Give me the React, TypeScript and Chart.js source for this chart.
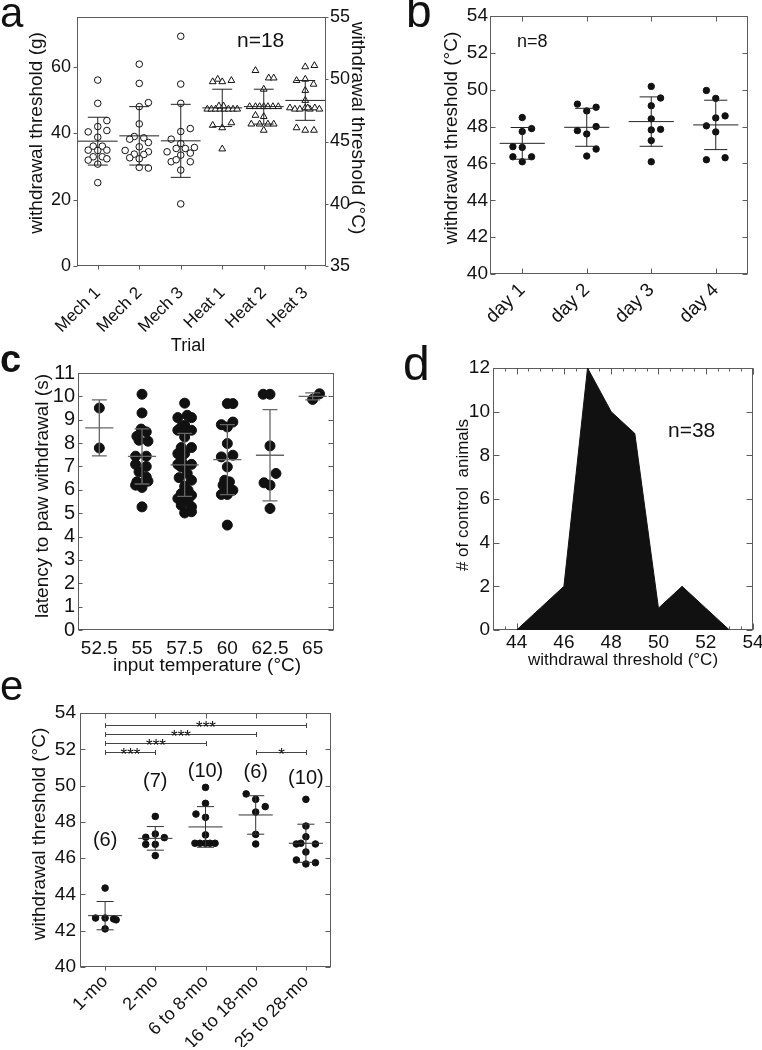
import React, { useEffect, useRef } from 'react';
import { Chart, registerables } from 'chart.js';

Chart.register(...registerables);

const W = 762;
const H = 1050;
const FONT = "'Liberation Sans', Arial, Helvetica, sans-serif";
const INK = '#111111';
const AXIS = '#5c5c5c';

// ---------- Panel a : trials ----------
const trialLabels = ['Mech 1', 'Mech 2', 'Mech 3', 'Heat 1', 'Heat 2', 'Heat 3'];
const aLeftTicks = [0, 20, 40, 60];
const aRightTicks = [35, 40, 45, 50, 55];
const mech1 = [56.0, 49.0, 43.8, 42.0, 40.8, 40.4, 38.8, 36.1, 36.1, 34.9, 34.8, 34.9, 32.9, 32.9, 31.9, 32.3, 30.7, 25.1];
const mech1Jit = [0, 0, 0.22, 0, 0.22, -0.23, 0, -0.11, 0.11, -0.23, 0, 0.22, -0.11, 0.11, -0.23, 0.22, 0, 0];
const mech2 = [60.8, 55.0, 49.2, 48.0, 42.8, 39.0, 38.6, 38.2, 37.2, 35.9, 34.8, 34.4, 33.7, 33.6, 32.3, 32.6, 29.7, 29.5];
const mech2Jit = [0, 0, 0.22, 0, 0, -0.12, 0.11, -0.23, 0.22, 0, -0.34, 0.22, -0.12, 0.11, 0, -0.23, 0, 0.22];
const mech3 = [69.2, 54.8, 49.0, 41.4, 40.5, 38.2, 36.9, 35.4, 35.4, 35.7, 34.4, 33.4, 34.0, 31.4, 32.0, 31.4, 28.9, 18.7];
const mech3Jit = [0, 0, 0, 0.23, 0, -0.23, 0, -0.11, 0.11, 0.33, -0.33, 0, 0.23, -0.23, -0.11, 0.23, 0, 0];
const heat1 = [50.0, 49.8, 49.8, 49.9, 47.6, 47.6, 47.6, 47.6, 47.6, 47.6, 47.6, 47.6, 47.85, 47.85, 46.3, 46.1, 46.5, 44.4];
const heat1Jit = [-0.11, -0.23, 0, 0.22, -0.36, -0.26, -0.16, -0.05, 0.05, 0.15, 0.26, 0.36, -0.08, 0.03, -0.23, 0, 0.22, 0];
const heat2 = [50.7, 50.1, 50.1, 49.2, 47.8, 47.8, 47.8, 47.8, 47.8, 47.8, 47.8, 47.1, 47.0, 46.4, 46.4, 46.4, 46.4, 45.9];
const heat2Jit = [-0.2, 0.12, 0.24, 0, -0.34, -0.2, -0.1, 0, 0.1, 0.22, 0.35, -0.2, 0, -0.3, -0.1, 0.1, 0.24, 0];
const heat3 = [51.0, 51.1, 49.9, 50.0, 49.6, 49.1, 48.3, 47.7, 47.6, 47.6, 47.7, 47.6, 47.7, 47.6, 47.7, 46.1, 45.9, 45.9];
const heat3Jit = [0, 0.22, -0.21, 0, 0.2, 0, 0, -0.37, -0.25, -0.13, 0, 0.11, 0.23, 0.34, 0.06, -0.21, 0, 0.21];
const mechMean = [37.6, 39.2, 37.7];
const mechSD = [7.2, 8.8, 11.0];
const heatMean = [47.7, 47.8, 48.3];
const heatSD = [1.5, 1.4, 1.6];

// ---------- Panel b : days ----------
const dayLabels = ['day 1', 'day 2', 'day 3', 'day 4'];
const bTicks = [40, 42, 44, 46, 48, 50, 52, 54];
const day1 = [48.49, 47.89, 47.73, 46.91, 46.87, 46.36, 46.36, 46.09];
const day1Jit = [0, 0.145, 0, -0.145, 0, -0.145, 0.145, 0];
const day2 = [49.22, 49.05, 48.85, 48.0, 47.78, 47.6, 46.78, 46.4];
const day2Jit = [-0.145, 0.145, 0, 0.145, -0.145, 0, 0.145, 0];
const day3 = [50.18, 49.55, 49.13, 48.42, 47.85, 47.82, 47.24, 46.09];
const day3Jit = [0, 0.145, 0, 0, 0.145, 0, 0, 0];
const day4 = [49.96, 49.53, 48.58, 48.47, 48.04, 47.71, 46.31, 46.2];
const day4Jit = [-0.145, 0, 0.145, 0, -0.145, 0, 0.145, -0.145];
const dayMean = [47.09, 47.96, 48.27, 48.09];
const daySD = [0.86, 1.03, 1.34, 1.34];

// ---------- Panel c : input temperature ----------
const tempLabels = ['52.5', '55', '57.5', '60', '62.5', '65'];
const cTicks = [0, 1, 2, 3, 4, 5, 6, 7, 8, 9, 10, 11];
const lat525 = [9.5, 7.79];
const lat525Jit = [0, 0];
const lat55 = [10.09, 9.29, 8.6, 8.48, 8.29, 8.12, 8.08, 7.44, 7.44, 7.09, 7.0, 6.77, 6.55, 6.34, 6.37, 6.2, 6.1, 5.27];
const lat55Jit = [0, 0, -0.02, 0.1, -0.12, -0.07, 0.14, -0.15, 0.1, -0.15, 0.1, -0.07, 0.1, -0.12, 0.14, -0.15, 0, 0];
const lat575 = [9.71, 9.09, 9.19, 9.09, 8.76, 8.69, 8.55, 8.55, 8.55, 8.26, 7.81, 7.81, 7.55, 7.55, 7.34, 7.09, 7.05, 7.09, 6.98, 6.7, 6.52, 6.41, 6.15, 5.98, 5.84, 5.77, 5.63, 5.7, 5.56, 5.48, 5.34, 5.27, 5.01, 5.06];
const lat575Jit = [0, -0.16, 0.06, 0.16, 0, -0.08, -0.16, 0, 0.16, 0, 0.16, -0.08, 0, -0.16, -0.08, -0.16, 0, 0.16, -0.08, 0.06, -0.13, 0.16, 0, 0.08, -0.08, 0.16, -0.16, 0, 0.08, -0.08, -0.08, 0.16, 0, 0.16];
const lat60 = [9.69, 9.69, 8.79, 8.69, 8.9, 7.98, 7.41, 7.48, 6.98, 6.41, 6.34, 6.25, 6.2, 5.98, 5.8, 5.8, 4.49];
const lat60Jit = [0, 0.13, -0.14, 0, 0.13, 0, -0.14, 0.13, 0, -0.06, 0.05, 0, -0.1, 0.13, -0.14, 0, 0];
const lat625 = [10.09, 10.09, 7.88, 6.7, 6.3, 6.2, 5.2];
const lat625Jit = [-0.16, 0, 0, 0.14, -0.14, 0, 0];
const lat65 = [10.11, 9.87];
const lat65Jit = [0.16, 0];
const latMean = [8.65, 7.43, 7.07, 7.29, 7.48, 10.0];
const latSD = [1.2, 1.18, 1.35, 1.5, 1.95, 0.15];

// ---------- Panel d : histogram ----------
const histTemp = [44, 45, 46, 47, 48, 49, 50, 51, 52, 53];
const histCount = [0, 1, 2, 12, 10, 9, 1, 2, 1, 0];
const dXTicks = [44, 46, 48, 50, 52, 54];
const dYTicks = [0, 2, 4, 6, 8, 10, 12];

// ---------- Panel e : age ----------
const ageLabels = ['1-mo', '2-mo', '6 to 8-mo', '16 to 18-mo', '25 to 28-mo'];
const eTicks = [40, 42, 44, 46, 48, 50, 52, 54];
const age1 = [44.35, 42.7, 42.7, 42.65, 42.6, 42.1];
const age1Jit = [0, -0.19, 0, 0.17, 0.22, 0];
const age2 = [48.3, 47.33, 47.15, 47.13, 46.76, 46.76, 46.14];
const age2Jit = [0, 0, -0.19, 0.18, -0.19, 0, 0];
const age3 = [49.9, 49.02, 48.43, 48.25, 47.28, 46.82, 46.82, 46.82, 46.82, 46.82];
const age3Jit = [0, 0, -0.19, 0, 0, -0.21, -0.11, 0, 0.09, 0.19];
const age4 = [49.54, 49.24, 48.84, 48.54, 47.31, 46.78];
const age4Jit = [-0.19, 0, 0.19, 0, 0, 0];
const age5 = [49.24, 47.77, 47.18, 46.78, 46.82, 46.78, 46.34, 45.9, 45.68, 45.75];
const age5Jit = [0, 0, 0, -0.19, -0.1, 0.19, 0, -0.19, 0, 0.19];
const ageMean = [42.83, 47.09, 47.72, 48.38, 46.82];
const ageSD = [0.78, 0.65, 1.12, 1.06, 1.05];
const ageN = ['(6)', '(7)', '(10)', '(6)', '(10)'];
const ageNY = [47.0, 50.2, 50.75, 50.7, 50.4];
const sigFrom = [1, 1, 1, 1, 4];
const sigTo = [5, 4, 3, 2, 5];
const sigY = [53.35, 52.85, 52.35, 51.85, 51.85];
const sigText = ['***', '***', '***', '***', '*'];

// ---------- helpers ----------
type Box = { l: number; t: number; r: number; b: number };

function layoutFor(box: Box, wL: number, wR: number, hB: number) {
  return { padding: { left: box.l - wL, top: box.t, right: W - box.r - wR, bottom: H - box.b - hB } };
}

function fix(size: number) {
  return (s: any) => {
    if (s.isHorizontal()) s.height = size;
    else s.width = size;
    s.paddingLeft = 0;
    s.paddingRight = 0;
    s.paddingTop = 0;
    s.paddingBottom = 0;
  };
}

function pts(vals: number[], jit: number[], cat: number) {
  return vals.map((v, i) => ({ x: cat + jit[i], y: v }));
}

function errLines(means: number[], sds: number[], half: number, cap: number, first = 1) {
  const d: { x: number; y: number | null }[] = [];
  means.forEach((m, i) => {
    const c = first + i;
    const s = sds[i];
    d.push({ x: c - half, y: m }, { x: c + half, y: m }, { x: c, y: null });
    d.push({ x: c, y: m - s }, { x: c, y: m + s }, { x: c, y: null });
    d.push({ x: c - cap, y: m + s }, { x: c + cap, y: m + s }, { x: c, y: null });
    d.push({ x: c - cap, y: m - s }, { x: c + cap, y: m - s }, { x: c, y: null });
  });
  return d;
}

function catAxis(labels: string[], size: number, pad: number, rot: number, h: number) {
  return {
    type: 'linear',
    position: 'bottom',
    min: 0.5,
    max: labels.length + 0.5,
    afterBuildTicks: (s: any) => {
      s.ticks = labels.map((_, i) => ({ value: i + 1 }));
    },
    ticks: {
      autoSkip: false,
      minRotation: rot,
      maxRotation: rot,
      padding: pad,
      color: INK,
      font: { family: FONT, size },
      callback: (v: number) => labels[Math.round(v) - 1] ?? '',
    },
    grid: { display: false, drawTicks: false },
    border: { display: false },
    afterFit: fix(h),
  };
}

function numAxis(pos: string, min: number, max: number, ticks: number[], size: number, pad: number, w: number) {
  return {
    type: 'linear',
    position: pos,
    min,
    max,
    afterBuildTicks: (s: any) => {
      s.ticks = ticks.map((v) => ({ value: v }));
    },
    ticks: { padding: pad, color: INK, font: { family: FONT, size }, autoSkip: false, maxRotation: 0, minRotation: 0 },
    grid: { display: false, drawTicks: false },
    border: { display: false },
    afterFit: fix(w),
  };
}

type TickSpec = { scale: string; side: string; dir: string; len: number; step?: number };
type Txt = { text: string; x: number; y: number; size: number; rot?: number; align?: string; base?: string; bold?: boolean };
type DataTxt = { text: string; x: number; y: number; size: number };
type Bracket = { from: number; to: number; y: number; label: string };

function decor(cfg: { ticks: TickSpec[]; texts: Txt[]; dataTexts?: DataTxt[]; brackets?: Bracket[] }) {
  return {
    id: 'decor',
    beforeDatasetsDraw(chart: any) {
      const { ctx, chartArea: a } = chart;
      ctx.save();
      ctx.strokeStyle = AXIS;
      ctx.lineWidth = 1;
      const L = Math.round(a.left) + 0.5;
      const T = Math.round(a.top) + 0.5;
      const R = Math.round(a.right) - 0.5;
      const B = Math.round(a.bottom) - 0.5;
      ctx.strokeRect(L, T, R - L, B - T);
      ctx.beginPath();
      cfg.ticks.forEach((t) => {
        const s = chart.scales[t.scale];
        let vals: number[] = [];
        if (t.step) {
          for (let v = Math.ceil(s.min / t.step - 1e-9) * t.step; v <= s.max + 1e-9; v += t.step) vals.push(v);
        } else {
          vals = s.ticks.map((k: any) => k.value);
        }
        const sign = t.dir === 'out' ? 1 : -1;
        vals.forEach((v) => {
          const p = Math.round(s.getPixelForValue(v)) + 0.5;
          if (t.side === 'bottom') {
            ctx.moveTo(p, B);
            ctx.lineTo(p, B + sign * t.len);
          } else if (t.side === 'top') {
            ctx.moveTo(p, T);
            ctx.lineTo(p, T - sign * t.len);
          } else if (t.side === 'left') {
            ctx.moveTo(L, p);
            ctx.lineTo(L - sign * t.len, p);
          } else {
            ctx.moveTo(R, p);
            ctx.lineTo(R + sign * t.len, p);
          }
        });
      });
      ctx.stroke();
      ctx.restore();
    },
    afterDraw(chart: any) {
      const { ctx } = chart;
      ctx.save();
      ctx.fillStyle = INK;
      cfg.texts.forEach((t) => {
        ctx.save();
        ctx.translate(t.x, t.y);
        if (t.rot) ctx.rotate((t.rot * Math.PI) / 180);
        ctx.font = `${t.bold ? 'bold ' : ''}${t.size}px ${FONT}`;
        ctx.textAlign = (t.align || 'center') as CanvasTextAlign;
        ctx.textBaseline = (t.base || 'middle') as CanvasTextBaseline;
        ctx.fillText(t.text, 0, 0);
        ctx.restore();
      });
      const xs = chart.scales.x;
      const ys = chart.scales.y;
      (cfg.dataTexts || []).forEach((t) => {
        ctx.font = `${t.size}px ${FONT}`;
        ctx.textAlign = 'center';
        ctx.textBaseline = 'middle';
        ctx.fillText(t.text, xs.getPixelForValue(t.x), ys.getPixelForValue(t.y));
      });
      (cfg.brackets || []).forEach((b) => {
        const x1 = Math.round(xs.getPixelForValue(b.from)) + 0.5;
        const x2 = Math.round(xs.getPixelForValue(b.to)) + 0.5;
        const y = Math.round(ys.getPixelForValue(b.y)) + 0.5;
        ctx.strokeStyle = '#444';
        ctx.lineWidth = 1;
        ctx.beginPath();
        ctx.moveTo(x1, y);
        ctx.lineTo(x2, y);
        ctx.moveTo(x1, y - 2.5);
        ctx.lineTo(x1, y + 2.5);
        ctx.moveTo(x2, y - 2.5);
        ctx.lineTo(x2, y + 2.5);
        ctx.stroke();
        ctx.font = `17px ${FONT}`;
        ctx.textAlign = 'center';
        ctx.textBaseline = 'alphabetic';
        ctx.fillStyle = INK;
        ctx.fillText(b.label, (x1 + x2) / 2, y + 7);
      });
      ctx.restore();
    },
  };
}

function errDataset(data: any[], color: string, width: number, yAxisID = 'y') {
  return {
    type: 'line',
    data,
    yAxisID,
    borderColor: color,
    borderWidth: width,
    pointRadius: 0,
    spanGaps: false,
    fill: false,
    tension: 0,
  };
}

function dotDataset(data: any[], radius: number, style: string, fillColor: string, yAxisID = 'y') {
  return {
    type: 'scatter',
    data,
    yAxisID,
    pointStyle: style,
    pointRadius: radius,
    pointBorderWidth: 1,
    pointBorderColor: INK,
    pointBackgroundColor: fillColor,
    borderColor: INK,
    backgroundColor: fillColor,
  };
}

const baseOptions = {
  responsive: false,
  animation: false,
  events: [],
  plugins: { legend: { display: false }, tooltip: { enabled: false } },
};

// ---------- panel configs ----------
function configA() {
  const box = { l: 77, t: 17, r: 326, b: 266 };
  const mechPts = [...pts(mech1, mech1Jit, 1), ...pts(mech2, mech2Jit, 2), ...pts(mech3, mech3Jit, 3)];
  const heatPts = [...pts(heat1, heat1Jit, 4), ...pts(heat2, heat2Jit, 5), ...pts(heat3, heat3Jit, 6)];
  return {
    type: 'scatter',
    data: {
      datasets: [
        errDataset(errLines(mechMean, mechSD, 0.48, 0.24, 1), '#222', 1, 'y'),
        errDataset(errLines(heatMean, heatSD, 0.48, 0.24, 4), '#222', 1, 'y2'),
        dotDataset(mechPts, 3.3, 'circle', '#ffffff', 'y'),
        dotDataset(heatPts, 3.9, 'triangle', '#ffffff', 'y2'),
      ],
    },
    options: {
      ...baseOptions,
      layout: layoutFor(box, 77, 40, 100),
      scales: {
        x: catAxis(trialLabels, 17, 17, 45, 100),
        y: numAxis('left', 0, 75, aLeftTicks, 18, 6, 77),
        y2: numAxis('right', 35, 55, aRightTicks, 18, 4, 40),
      },
    },
    plugins: [
      decor({
        ticks: [
          { scale: 'x', side: 'bottom', dir: 'out', len: 4 },
          { scale: 'y', side: 'left', dir: 'out', len: 4 },
          { scale: 'y2', side: 'right', dir: 'out', len: 3 },
        ],
        texts: [
          { text: 'a', x: 0, y: 27, size: 42, align: 'left', base: 'alphabetic' },
          { text: 'n=18', x: 237, y: 47, size: 21, align: 'left', base: 'alphabetic' },
          { text: 'withdrawal threshold (g)', x: 37, y: 133, size: 19, rot: -90 },
          { text: 'withdrawal threshold (°C)', x: 357, y: 128, size: 19, rot: 90 },
          { text: 'Trial', x: 188, y: 346, size: 18 },
        ],
      }),
    ],
  };
}

function configB() {
  const box = { l: 490, t: 16, r: 748, b: 274 };
  const dots = [...pts(day1, day1Jit, 1), ...pts(day2, day2Jit, 2), ...pts(day3, day3Jit, 3), ...pts(day4, day4Jit, 4)];
  return {
    type: 'scatter',
    data: {
      datasets: [errDataset(errLines(dayMean, daySD, 0.35, 0.18), '#222', 1), dotDataset(dots, 3.2, 'circle', INK)],
    },
    options: {
      ...baseOptions,
      layout: layoutFor(box, 40, 0, 80),
      scales: {
        x: catAxis(dayLabels, 19, 5, 45, 80),
        y: numAxis('left', 40, 54, bTicks, 19, 2, 40),
      },
    },
    plugins: [
      decor({
        ticks: [
          { scale: 'x', side: 'bottom', dir: 'in', len: 5 },
          { scale: 'x', side: 'top', dir: 'in', len: 5 },
          { scale: 'y', side: 'left', dir: 'in', len: 5 },
          { scale: 'y', side: 'right', dir: 'in', len: 5 },
        ],
        texts: [
          { text: 'b', x: 406, y: 27, size: 46, align: 'left', base: 'alphabetic' },
          { text: 'n=8', x: 517, y: 47, size: 18, align: 'left', base: 'alphabetic' },
          { text: 'withdrawal threshold (°C)', x: 452, y: 138, size: 19, rot: -90 },
        ],
      }),
    ],
  };
}

function configC() {
  const box = { l: 78, t: 373, r: 334, b: 630 };
  const dots = [
    ...pts(lat525, lat525Jit, 1),
    ...pts(lat55, lat55Jit, 2),
    ...pts(lat575, lat575Jit, 3),
    ...pts(lat60, lat60Jit, 4),
    ...pts(lat625, lat625Jit, 5),
    ...pts(lat65, lat65Jit, 6),
  ];
  return {
    type: 'scatter',
    data: {
      datasets: [errDataset(errLines(latMean, latSD, 0.33, 0.175), '#666', 1.3), dotDataset(dots, 5, 'circle', INK)],
    },
    options: {
      ...baseOptions,
      layout: layoutFor(box, 40, 0, 30),
      scales: {
        x: catAxis(tempLabels, 19, 7, 0, 30),
        y: numAxis('left', 0, 11, cTicks, 20, 3, 40),
      },
    },
    plugins: [
      decor({
        ticks: [
          { scale: 'y', side: 'left', dir: 'in', len: 4 },
          { scale: 'y', side: 'right', dir: 'in', len: 5 },
        ],
        texts: [
          { text: 'c', x: 0, y: 372, size: 38, bold: true, align: 'left', base: 'alphabetic' },
          { text: 'latency to paw withdrawal (s)', x: 43, y: 496, size: 19, rot: -90 },
          { text: 'input temperature (°C)', x: 207, y: 666, size: 19 },
        ],
      }),
    ],
  };
}

function configD() {
  const box = { l: 493, t: 368, r: 753, b: 630 };
  return {
    type: 'scatter',
    data: {
      datasets: [
        {
          type: 'line',
          data: histTemp.map((t, i) => ({ x: t, y: histCount[i] })),
          borderColor: INK,
          borderWidth: 1,
          backgroundColor: INK,
          fill: 'origin',
          pointRadius: 0,
          tension: 0,
        },
      ],
    },
    options: {
      ...baseOptions,
      layout: layoutFor(box, 40, 0, 30),
      scales: {
        x: numAxis('bottom', 43, 54, dXTicks, 19, 1, 30),
        y: numAxis('left', 0, 12, dYTicks, 19, 3, 40),
      },
    },
    plugins: [
      decor({
        ticks: [
          { scale: 'x', side: 'bottom', dir: 'in', len: 3, step: 0.5 },
          { scale: 'x', side: 'top', dir: 'in', len: 3, step: 0.5 },
          { scale: 'x', side: 'bottom', dir: 'in', len: 6 },
          { scale: 'x', side: 'top', dir: 'in', len: 6 },
          { scale: 'y', side: 'left', dir: 'in', len: 6 },
          { scale: 'y', side: 'right', dir: 'in', len: 6 },
        ],
        texts: [
          { text: 'd', x: 403, y: 380, size: 48, align: 'left', base: 'alphabetic' },
          { text: '# of control  animals', x: 463, y: 495, size: 17, rot: -90 },
          { text: 'withdrawal threshold (°C)', x: 623, y: 660, size: 17 },
          { text: 'n=38', x: 668, y: 437, size: 21, align: 'left', base: 'alphabetic' },
        ],
      }),
    ],
  };
}

function configE() {
  const box = { l: 80, t: 713, r: 331, b: 967 };
  const dots = [
    ...pts(age1, age1Jit, 1),
    ...pts(age2, age2Jit, 2),
    ...pts(age3, age3Jit, 3),
    ...pts(age4, age4Jit, 4),
    ...pts(age5, age5Jit, 5),
  ];
  return {
    type: 'scatter',
    data: {
      datasets: [errDataset(errLines(ageMean, ageSD, 0.34, 0.17), '#333', 1), dotDataset(dots, 3.3, 'circle', INK)],
    },
    options: {
      ...baseOptions,
      layout: layoutFor(box, 40, 0, 80),
      scales: {
        x: catAxis(ageLabels, 18, 4, 45, 80),
        y: numAxis('left', 40, 54, eTicks, 19, 4, 40),
      },
    },
    plugins: [
      decor({
        ticks: [
          { scale: 'x', side: 'bottom', dir: 'out', len: 4 },
          { scale: 'x', side: 'top', dir: 'in', len: 5 },
          { scale: 'y', side: 'left', dir: 'in', len: 5 },
          { scale: 'y', side: 'right', dir: 'in', len: 5 },
        ],
        texts: [
          { text: 'e', x: 0, y: 700, size: 42, align: 'left', base: 'alphabetic' },
          { text: 'withdrawal threshold (°C)', x: 40, y: 834, size: 19, rot: -90 },
        ],
        dataTexts: ageN.map((t, i) => ({ text: t, x: i + 1, y: ageNY[i], size: 20 })),
        brackets: sigFrom.map((f, i) => ({ from: f, to: sigTo[i], y: sigY[i], label: sigText[i] })),
      }),
    ],
  };
}

const builders = [configA, configB, configC, configD, configE];

export default function App() {
  const refs = [useRef<HTMLCanvasElement>(null), useRef<HTMLCanvasElement>(null), useRef<HTMLCanvasElement>(null), useRef<HTMLCanvasElement>(null), useRef<HTMLCanvasElement>(null)];
  useEffect(() => {
    const charts: Chart[] = [];
    builders.forEach((build, i) => {
      const c = refs[i].current;
      if (c) charts.push(new Chart(c, build() as any));
    });
    return () => charts.forEach((ch) => ch.destroy());
  }, []);
  return (
    <div style={{ position: 'absolute', left: 0, top: 0, width: W, height: H, background: '#fff' }}>
      {refs.map((r, i) => (
        <canvas key={i} ref={r} width={W} height={H} style={{ position: 'absolute', left: 0, top: 0, width: W, height: H }} />
      ))}
    </div>
  );
}
